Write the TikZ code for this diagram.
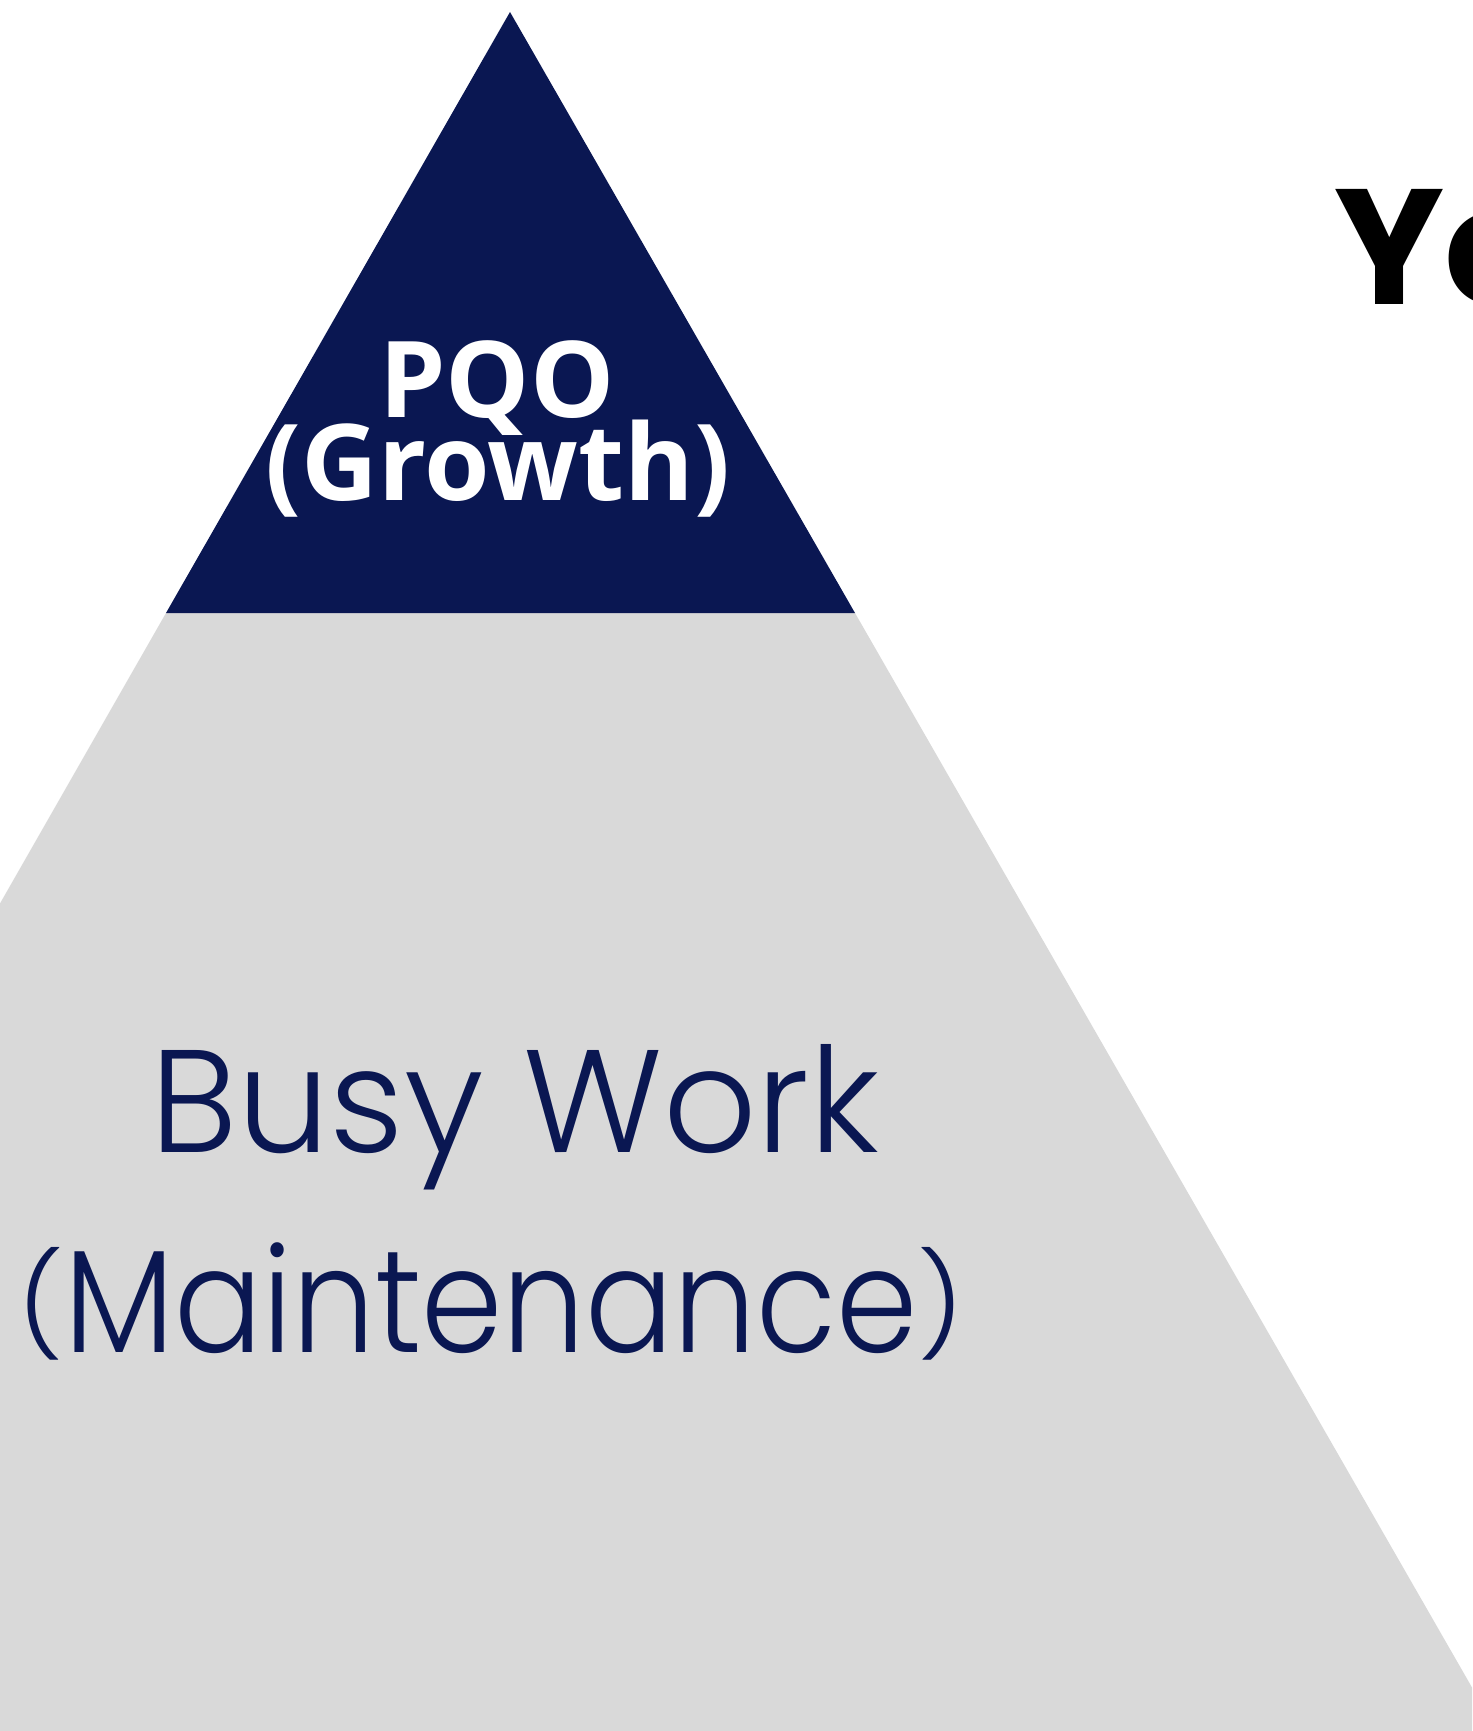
\documentclass[tikz,border=0pt]{standalone}
\usepackage{fontspec}
\setmainfont{Open Sans}
\newfontfamily\headfont{Open Sans}[BoldFont={* Bold}]
\newfontfamily\lightfont{Poppins Light}
\newfontfamily\titlefont{Poppins}[BoldFont={* Bold}]
\definecolor{navy}{HTML}{0A1752}
\definecolor{basegray}{HTML}{D9D9D9}
% shorter parentheses for the lower label
\newcommand\shortparen[1]{\raisebox{11pt}{\scalebox{0.85}[0.69]{#1}}}
\tikzset{
  tier/.style={draw=none},
  toplabel/.style={inner sep=0pt, anchor=base, text=white, font=\headfont\bfseries\fontsize{106}{106}\selectfont},
  baselabel/.style={inner sep=0pt, anchor=base, text=navy, font=\lightfont\fontsize{146}{146}\selectfont},
  titlelabel/.style={inner sep=0pt, anchor=base west, text=black, font=\titlefont\bfseries\fontsize{164}{164}\selectfont}
}
\begin{document}
\begin{tikzpicture}[x=1pt, y=-1pt]
  \useasboundingbox (0,0) rectangle (1472,1731);
  \clip (0,0) rectangle (1472,1731);
  \fill[white] (0,0) rectangle (1472,1731);
  % lower tier of the pyramid
  \fill[basegray, tier] (166,613) -- (855,613) -- (1497,1731) -- (-473,1731) -- cycle;
  % top tier
  \fill[navy, tier] (510,12) -- (855,613) -- (166,613) -- cycle;
  % labels
  \node[toplabel] (pqo) at (497,417) {PQO};
  \node[toplabel] (growth) at (498,500) {(Growth)};
  \node[baselabel] (busy) at (515,1152) {Busy Work};
  \node[baselabel] (maint) at (491,1352) {\scalebox{0.895}[1]{\shortparen{(}Maintenance\shortparen{)}}};
  \node[titlelabel] (title) at (1334,304) {Yo};
\end{tikzpicture}
\end{document}
